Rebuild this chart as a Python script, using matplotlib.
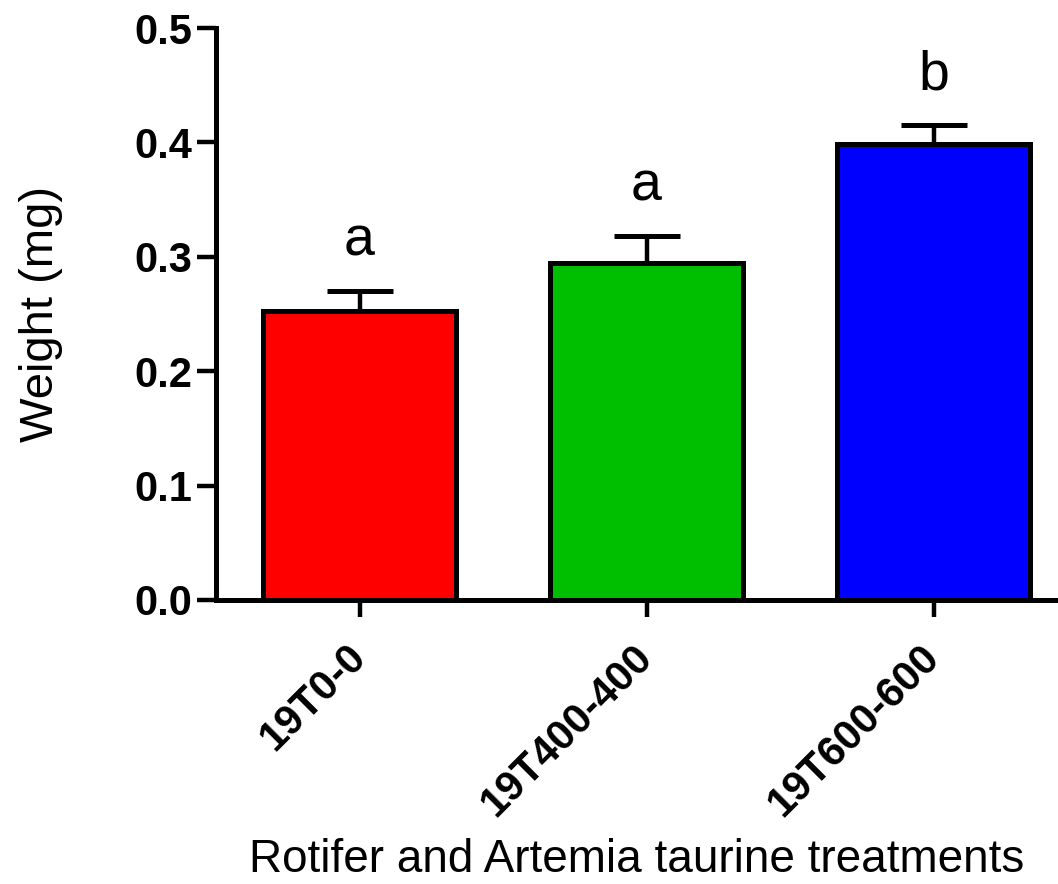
import matplotlib.pyplot as plt
import matplotlib.transforms as mtransforms

treatments = ["19T0-0", "19T400-400", "19T600-600"]
weights = [0.253, 0.295, 0.399]
errors = [0.017, 0.023, 0.016]
letters = ["a", "a", "b"]
colors = ["#FF0000", "#00BF00", "#0000FF"]

plt.rcParams['font.family'] = ['Liberation Sans', 'DejaVu Sans']

fig = plt.figure(figsize=(10.58, 8.84), dpi=100)
ax = fig.add_axes([0.2042, 0.3213, 0.8138, 0.6470])

x = range(len(treatments))
ax.bar(x, weights, width=0.67, color=colors, edgecolor='black', linewidth=3.6, zorder=2)
ax.errorbar(x, weights, yerr=[[0] * len(errors), errors], fmt='none', ecolor='black',
            elinewidth=3.2, capsize=24, capthick=3.6, zorder=1)

for i in x:
    ax.annotate(letters[i], (i, weights[i] + errors[i]), xytext=(0, 26), textcoords='offset points',
                ha='center', va='baseline', fontsize=40)

ax.set_xlim(-0.5, 2.5)
ax.set_ylim(0, 0.5)
ax.set_yticks([0.0, 0.1, 0.2, 0.3, 0.4, 0.5])
ax.set_yticklabels(["0.0", "0.1", "0.2", "0.3", "0.4", "0.5"], fontsize=30, fontweight='bold')
ax.set_xticks(list(x))
ax.set_xticklabels(treatments, fontsize=30, fontweight='bold', rotation=45,
                   ha='right', va='center', rotation_mode='anchor')

# nudge rotated labels a little to the left, like the original
offset = mtransforms.ScaledTranslation(-4 / 72, 0, fig.dpi_scale_trans)
for lab in ax.get_xticklabels():
    lab.set_transform(lab.get_transform() + offset)

for s in ['top', 'right']:
    ax.spines[s].set_visible(False)
for s in ['left', 'bottom']:
    ax.spines[s].set_linewidth(3.6)
ax.tick_params(axis='y', length=14, width=3.2, pad=3)
ax.tick_params(axis='x', length=12, width=3.2, pad=25)

ax.set_ylabel("Weight (mg)", fontsize=34)
ax.yaxis.set_label_coords(-0.178, 0.5)
ax.set_xlabel("Rotifer and Artemia taurine treatments", fontsize=33, va='baseline')
ax.xaxis.set_label_coords(0.489, -0.476)

fig.savefig("out.png", dpi=100)
